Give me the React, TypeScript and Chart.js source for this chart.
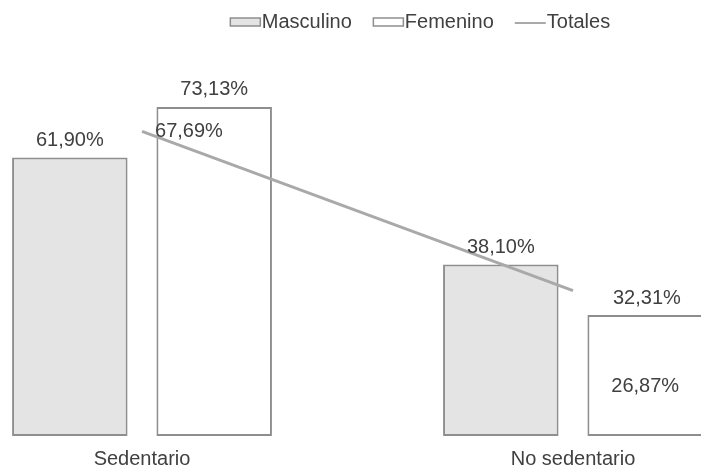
import { useEffect, useRef } from "react";
import { Chart, registerables } from "chart.js";

Chart.register(...registerables);

// Categories and series values (percentages)
const categories = ["Sedentario", "No sedentario"];
const masculino = [61.9, 38.1];
const femenino = [73.13, 26.87];
const totales = [67.69, 32.31];
const seriesNames = ["Masculino", "Femenino", "Totales"];

// where each bar's value label sits: above the bar or inside it
const masculinoLabelPlace = ["outside", "outside"];
const femeninoLabelPlace = ["outside", "inside"];
// nudges (px) for the totals labels, placed to the right of each point
const totalesLabelNudge = [
  [13, 0],
  [40, 8],
];

const FONT = '"Liberation Sans", Arial, sans-serif';
const TEXT = "#404040";
const BAR_BORDER = "#8e8e8e";
const MALE_FILL = "#e4e4e4";
const FEMALE_FILL = "#ffffff";
const LINE = "#a9a9a9";

const fmt = (v: number) => v.toFixed(2).replace(".", ",") + "%";

// Value labels for bars and the totals line
const valueLabels = {
  id: "valueLabels",
  afterDatasetsDraw(chart: any) {
    const ctx = chart.ctx;
    ctx.save();
    ctx.font = `20px ${FONT}`;
    ctx.fillStyle = TEXT;
    const places = [masculinoLabelPlace, femeninoLabelPlace];
    chart.data.datasets.forEach((ds: any, di: number) => {
      const meta = chart.getDatasetMeta(di);
      meta.data.forEach((el: any, i: number) => {
        const v = ds.data[i].y;
        if (ds.type === "line") {
          const [dx, dy] = totalesLabelNudge[i];
          ctx.textAlign = "left";
          ctx.textBaseline = "middle";
          ctx.fillText(fmt(v), el.x + dx, el.y + dy);
        } else {
          ctx.textAlign = "center";
          ctx.textBaseline = "middle";
          if (places[di][i] === "inside") {
            ctx.fillText(fmt(v), el.x, (el.y + el.base) / 2 + 11);
          } else {
            ctx.fillText(fmt(v), el.x, el.y - 17);
          }
        }
      });
    });
    ctx.restore();
  },
};

// Legend drawn in one row above the plot
const rowLegend = {
  id: "rowLegend",
  afterDraw(chart: any) {
    const ctx = chart.ctx;
    ctx.save();
    ctx.font = `20px ${FONT}`;
    const sym = 31;
    const gapText = 1;
    const gapItem = 21;
    const widths = seriesNames.map((n) => ctx.measureText(n).width);
    const total =
      widths.reduce((a, w) => a + sym + gapText + w, 0) + gapItem * (seriesNames.length - 1);
    let x = 420 - total / 2;
    const cy = 22;
    chart.data.datasets.forEach((ds: any, i: number) => {
      if (ds.type === "line") {
        ctx.strokeStyle = ds.borderColor;
        ctx.lineWidth = 2;
        ctx.beginPath();
        ctx.moveTo(x, cy + 1);
        ctx.lineTo(x + sym, cy + 1);
        ctx.stroke();
      } else {
        ctx.fillStyle = ds.backgroundColor;
        ctx.strokeStyle = ds.borderColor;
        ctx.lineWidth = 1.5;
        ctx.fillRect(x + 0.5, cy - 4, sym - 1, 8);
        ctx.strokeRect(x + 0.5, cy - 4, sym - 1, 8);
      }
      ctx.fillStyle = TEXT;
      ctx.textAlign = "left";
      ctx.textBaseline = "middle";
      ctx.fillText(seriesNames[i], x + sym + gapText, cy);
      x += sym + gapText + widths[i] + gapItem;
    });
    ctx.restore();
  },
};

export default function App() {
  const canvasRef = useRef<HTMLCanvasElement | null>(null);

  useEffect(() => {
    if (!canvasRef.current) return;
    const pts = (vals: number[]) => vals.map((y, i) => ({ x: i, y }));
    const chart = new Chart(canvasRef.current, {
      type: "bar",
      data: {
        datasets: [
          {
            type: "bar",
            label: seriesNames[0],
            data: pts(masculino),
            backgroundColor: MALE_FILL,
            borderColor: BAR_BORDER,
            borderWidth: 2,
            borderSkipped: false,
            categoryPercentage: 0.67,
            barPercentage: 0.8,
            order: 1,
          },
          {
            type: "bar",
            label: seriesNames[1],
            data: pts(femenino),
            backgroundColor: FEMALE_FILL,
            borderColor: BAR_BORDER,
            borderWidth: 2,
            borderSkipped: false,
            categoryPercentage: 0.67,
            barPercentage: 0.8,
            order: 1,
          },
          {
            type: "line",
            label: seriesNames[2],
            data: pts(totales),
            borderColor: LINE,
            backgroundColor: LINE,
            borderWidth: 3,
            pointRadius: 0,
            order: 0,
          },
        ],
      } as any,
      options: {
        animation: false,
        responsive: false,
        layout: { padding: { top: 76, bottom: 0, left: 0, right: 0 } },
        plugins: {
          legend: { display: false },
          tooltip: { enabled: false },
        },
        scales: {
          x: {
            type: "linear",
            offset: false,
            min: -0.3295,
            max: 1.297,
            grid: { display: false, drawTicks: false, offset: false },
            border: { display: false },
            ticks: {
              stepSize: 1,
              includeBounds: false,
              maxRotation: 0,
              autoSkip: false,
              padding: 11,
              color: TEXT,
              font: { family: FONT, size: 20 },
              callback: (v: any) => categories[Number(v)] ?? "",
            },
          },
          y: { display: false, min: 0, max: 80 },
        },
      } as any,
      plugins: [valueLabels, rowLegend],
    });
    return () => chart.destroy();
  }, []);

  return (
    <div
      style={{
        position: "absolute",
        left: 0,
        top: 0,
        width: 701,
        height: 471,
        overflow: "hidden",
        background: "#ffffff",
      }}
    >
      <canvas ref={canvasRef} width={701} height={482} style={{ display: "block" }} />
    </div>
  );
}
